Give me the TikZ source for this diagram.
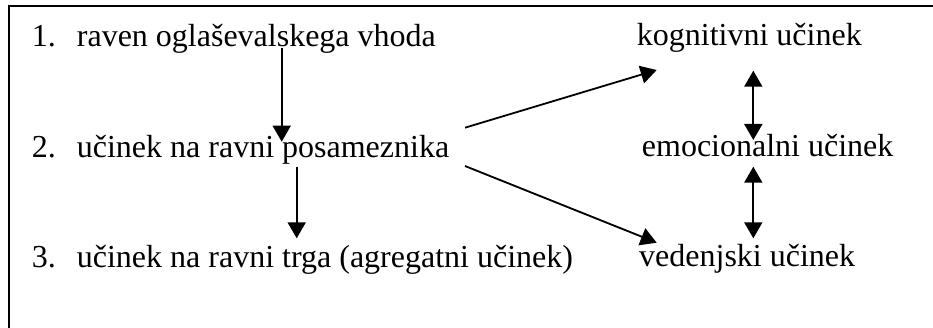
\documentclass[tikz,border=0pt]{standalone}
\usepackage{fontspec}
\setmainfont{Liberation Serif}
\usetikzlibrary{arrows.meta}
\begin{document}
\begin{tikzpicture}[x=1pt,y=-1pt,
  lbl/.style={anchor=base west,inner sep=0pt,font=\fontsize{32}{38}\selectfont},
  tip/.style={},
  conn/.style={line width=1.8pt,-{Triangle[width=18pt,length=16pt]}},
  dconn/.style={line width=1.8pt,{Triangle[width=18pt,length=16pt]}-{Triangle[width=18pt,length=16pt]}},
  frame/.style={line width=2.5pt}]
\useasboundingbox (0,0) rectangle (933,328);
% frame (only top and left edges visible)
\coordinate (ftr) at (940,6);
\coordinate (ftl) at (9,6);
\coordinate (fbl) at (9,340);
\draw[frame] (ftr) -- (ftl) -- (fbl);
% left column
\node[lbl] (n1) at (31.7,46.7) {\makebox[45pt][l]{1.}raven oglaševalskega vhoda};
\node[lbl] (n2) at (31.7,157.3) {\makebox[45pt][l]{2.}učinek na ravni posameznika};
\node[lbl] (n3) at (31.7,267.3) {\makebox[45pt][l]{3.}učinek na ravni trga (agregatni učinek)};
% right column
\node[lbl] (k) at (636.7,45.5) {kognitivni učinek};
\node[lbl] (e) at (641.7,156.5) {emocionalni učinek};
\node[lbl] (v) at (639,266.7) {vedenjski učinek};
% connector end points
\coordinate (a1s) at (281.7,48);   \coordinate (a1e) at (281.7,141.7);
\coordinate (a2s) at (296.7,166.7); \coordinate (a2e) at (296.7,238.3);
\coordinate (d1s) at (465,127.7);  \coordinate (d1e) at (656.7,70);
\coordinate (d2s) at (465,166);    \coordinate (d2e) at (656.7,242.7);
\coordinate (b1s) at (753.3,70.7); \coordinate (b1e) at (753.3,140);
\coordinate (b2s) at (753.3,166.7); \coordinate (b2e) at (753.3,238.3);
\draw[conn] (a1s) -- (a1e);
\draw[conn] (a2s) -- (a2e);
\draw[conn] (d1s) -- (d1e);
\draw[conn] (d2s) -- (d2e);
\draw[dconn] (b1s) -- (b1e);
\draw[dconn] (b2s) -- (b2e);
\end{tikzpicture}
\end{document}
